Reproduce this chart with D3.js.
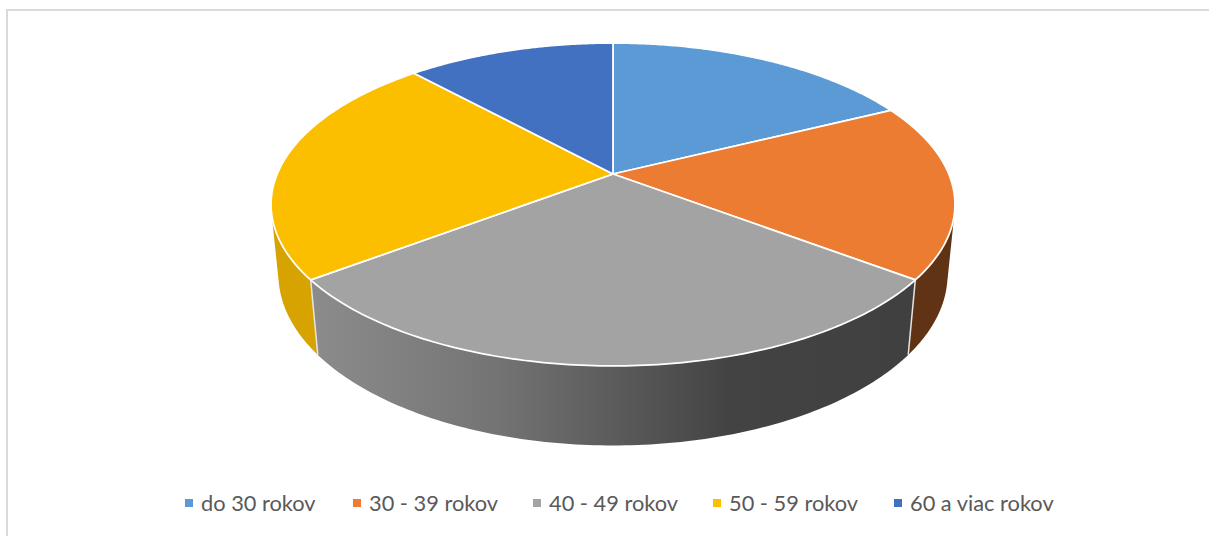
<!DOCTYPE html>
<html>
<head>
<meta charset="utf-8">
<script src="https://cdn.jsdelivr.net/npm/d3@7"></script>
<style>
    html, body { margin: 0; padding: 0; background: #fff; overflow: hidden; }
    svg { display: block; }
    .legend text { font-family: Lato, "Open Sans", sans-serif; font-size: 21.8px; fill: #595959; }
</style>
</head>
<body>
<div id="chart"></div>
<script>
const categories = ['do 30 rokov', '30 - 39 rokov', '40 - 49 rokov', '50 - 59 rokov', '60 a viac rokov'];
const shares = [17.7, 17.6, 29.4, 23.5, 11.8];
const topColors = ['#5b9ad5', '#eb7c31', '#a3a3a3', '#fcbf00', '#4271c2'];
const wallColors = ['#355d80', '#5f3313', '#636363', '#d6a300', '#294476'];
const legendX = [185, 353, 533, 713, 894];

const width = 1209, height = 536;

// Perspective of the tilted disc, fitted to the reference ellipse
const cam = { cx: 613, cy: 174, a: 335.8, b: 155.7, c: 70.3, k: 0.1888, m: 0.0213 };

// angle is clockwise from 12 o'clock, z = 0 top face, z = 1 bottom rim
function project(angle, z) {
    const X = Math.sin(angle), Y = -Math.cos(angle);
    const w = 1 - cam.k * Y + cam.m * z;
    return [cam.cx + cam.a * X / w, cam.cy + (cam.b * Y + cam.c * z) / w];
}

const STEPS = 120;

function arcPoints(a0, a1, z) {
    return d3.range(0, STEPS + 1).map(i => project(a0 + (a1 - a0) * i / STEPS, z));
}

const line = d3.line();

const svg = d3.select('#chart').append('svg')
    .attr('width', width)
    .attr('height', height);

// Dark side of the grey slice runs left to right
const defs = svg.append('defs');
const grad = defs.append('linearGradient')
    .attr('id', 'grey-wall')
    .attr('gradientUnits', 'userSpaceOnUse')
    .attr('x1', 318).attr('y1', 0)
    .attr('x2', 908).attr('y2', 0);
[[0, '#8b8b8b'], [0.3, '#747474'], [0.7, '#434343'], [1, '#404040']].forEach(s => {
    grad.append('stop').attr('offset', s[0]).attr('stop-color', s[1]);
});

// Chart frame
svg.append('path')
    .attr('d', line([[7, height], [7, 10], [width, 10]]))
    .attr('fill', 'none')
    .attr('stroke', '#d9d9d9')
    .attr('stroke-width', 2);

const slices = d3.pie().sort(null)(shares);

// One path of small quads, all wound the same way so nonzero fill gives their union
// and the straight silhouette past the rim gets filled without seams.
function wallPath(d) {
    const top = arcPoints(d.startAngle, d.endAngle, 0);
    const bottom = arcPoints(d.startAngle, d.endAngle, 1);
    return d3.range(0, STEPS).map(i => {
        const q = [top[i], top[i + 1], bottom[i + 1], bottom[i]];
        if (d3.polygonArea(q) < 0) q.reverse();
        return line(q) + 'Z';
    }).join('');
}

// Walls first, the top faces cover whatever faces away
svg.append('g').selectAll('path')
    .data(slices)
    .join('path')
    .attr('d', wallPath)
    .attr('fill', (d, i) => i === 2 ? 'url(#grey-wall)' : wallColors[i]);

// Light seams where the grey wall meets its neighbours
svg.append('g').selectAll('path')
    .data([slices[2].startAngle, slices[2].endAngle])
    .join('path')
    .attr('d', a => line([project(a, 0), project(a, 1)]))
    .attr('stroke', '#e4e4e4')
    .attr('stroke-width', 1.5);

svg.append('g').selectAll('path')
    .data(slices)
    .join('path')
    .attr('d', d => line([[cam.cx, cam.cy]].concat(arcPoints(d.startAngle, d.endAngle, 0))) + 'Z')
    .attr('fill', (d, i) => topColors[i])
    .attr('stroke', '#fff')
    .attr('stroke-width', 1.75)
    .attr('stroke-linejoin', 'round');

const legend = svg.append('g').attr('class', 'legend')
    .selectAll('g')
    .data(categories)
    .join('g')
    .attr('transform', (d, i) => `translate(${legendX[i]},503)`);

legend.append('rect')
    .attr('x', 0).attr('y', -4)
    .attr('width', 8).attr('height', 8)
    .attr('fill', (d, i) => topColors[i]);

legend.append('text')
    .attr('x', 16)
    .attr('dy', '0.35em')
    .text(d => d);
</script>
</body>
</html>
